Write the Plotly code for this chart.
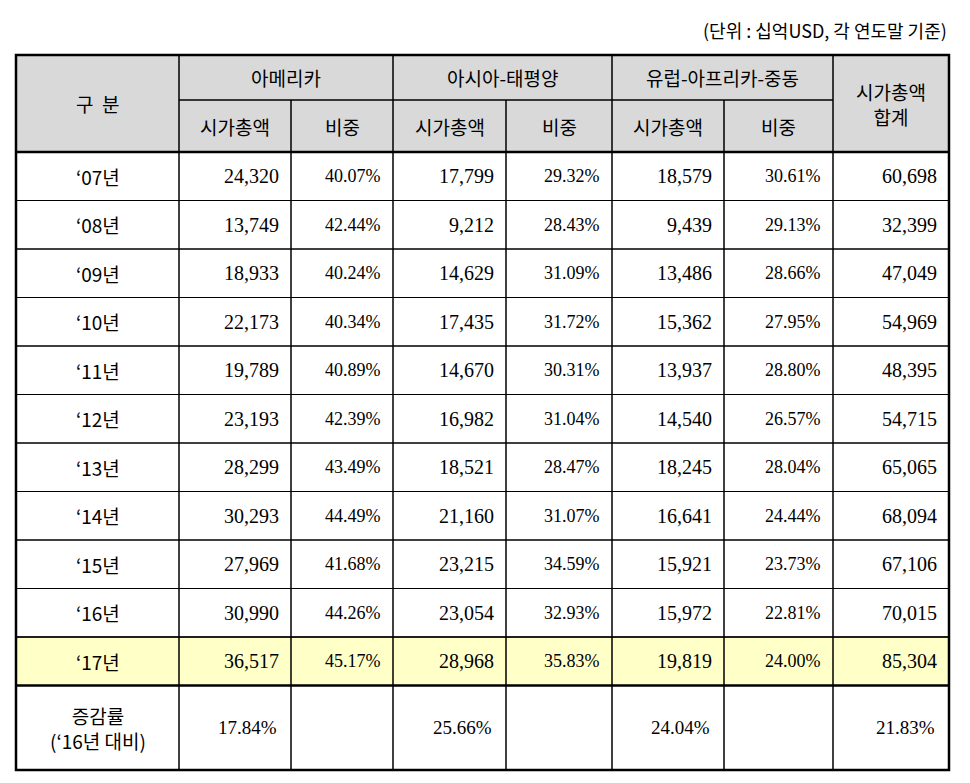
import plotly.graph_objects as go

years = ["‘07년","‘08년","‘09년","‘10년","‘11년","‘12년","‘13년","‘14년","‘15년","‘16년","‘17년"]
am_cap = ["24,320","13,749","18,933","22,173","19,789","23,193","28,299","30,293","27,969","30,990","36,517"]
am_pct = ["40.07%","42.44%","40.24%","40.34%","40.89%","42.39%","43.49%","44.49%","41.68%","44.26%","45.17%"]
ap_cap = ["17,799","9,212","14,629","17,435","14,670","16,982","18,521","21,160","23,215","23,054","28,968"]
ap_pct = ["29.32%","28.43%","31.09%","31.72%","30.31%","31.04%","28.47%","31.07%","34.59%","32.93%","35.83%"]
eu_cap = ["18,579","9,439","13,486","15,362","13,937","14,540","18,245","16,641","15,921","15,972","19,819"]
eu_pct = ["30.61%","29.13%","28.66%","27.95%","28.80%","26.57%","28.04%","24.44%","23.73%","22.81%","24.00%"]
total = ["60,698","32,399","47,049","54,969","48,395","54,715","65,065","68,094","67,106","70,015","85,304"]
growth = ["17.84%","","25.66%","","24.04%","","21.83%"]
regions = ["아메리카","아시아-태평양","유럽-아프리카-중동"]

fig = go.Figure()
shapes, ann = [], []
X = [15,178,290,392,505,611,723,832,948]
H0, H1, H2 = 55, 100, 152
RH = 48.5
ROWS = [H2 + i*RH for i in range(12)]
BOT = 770
KR = "Noto Sans CJK KR"
SER = "Liberation Serif"

def rect(x0,y0,x1,y1,fill=None,w=1):
    shapes.append(dict(type="rect",x0=x0,y0=y0,x1=x1,y1=y1,fillcolor=fill or "rgba(0,0,0,0)",
                       line=dict(color="black",width=w),layer="below"))
def text(x,y,t,anchor="center",font=KR,size=19):
    ann.append(dict(x=x,y=y,text=t,showarrow=False,xanchor=anchor,yanchor="middle",
                    font=dict(family=font,size=size,color="black")))

rect(X[0],H0,X[8],H2,"#d9d9d9")
rect(X[0],ROWS[10],X[8],ROWS[11],"#ffffc8")
rect(X[0],H0,X[1],H2); text((X[0]+X[1])/2,(H0+H2)/2,"구  분")
for i,r in enumerate(regions):
    a,b,c = X[1+2*i],X[2+2*i],X[3+2*i]
    rect(a,H0,c,H1); text((a+c)/2,(H0+H1)/2,r)
    rect(a,H1,b,H2); text((a+b)/2,(H1+H2)/2,"시가총액")
    rect(b,H1,c,H2); text((b+c)/2,(H1+H2)/2,"비중")
rect(X[7],H0,X[8],H2); text((X[7]+X[8])/2,(H0+H2)/2,"시가총액<br>합계")

cols = [am_cap,am_pct,ap_cap,ap_pct,eu_cap,eu_pct,total]
for r in range(11):
    y0,y1 = ROWS[r],ROWS[r+1]; ym=(y0+y1)/2
    rect(X[0],y0,X[1],y1); text((X[0]+X[1])/2,ym,years[r])
    for c in range(7):
        rect(X[1+c],y0,X[2+c],y1)
        pct = c in (1,3,5)
        text(X[2+c]-10,ym,cols[c][r],anchor="right",font=SER,size=18 if pct else 20)
ym=(ROWS[11]+BOT)/2
rect(X[0],ROWS[11],X[1],BOT); text((X[0]+X[1])/2,ym,"증감률<br>(‘16년 대비)")
for c in range(7):
    rect(X[1+c],ROWS[11],X[2+c],BOT)
    if growth[c]:
        text(X[2+c]-12,ym,growth[c],anchor="right",font=SER,size=19)
for y in (H2, ROWS[11]):
    shapes.append(dict(type="line",x0=X[0],x1=X[8],y0=y,y1=y,line=dict(color="black",width=2.5)))
shapes.append(dict(type="rect",x0=X[0],y0=H0,x1=X[8],y1=BOT,line=dict(color="black",width=2.5)))
ann.append(dict(x=948,y=30,text="(단위 : 십억USD, 각 연도말 기준)",showarrow=False,xanchor="right",
                yanchor="middle",font=dict(family=KR,size=18,color="black")))

fig.update_layout(width=970,height=783,margin=dict(l=0,r=0,t=0,b=0),plot_bgcolor="white",
                  paper_bgcolor="white",shapes=shapes,annotations=ann,
                  xaxis=dict(range=[7,977],visible=False,fixedrange=True),
                  yaxis=dict(range=[791,8],visible=False,fixedrange=True))
fig.write_html("out.html")
